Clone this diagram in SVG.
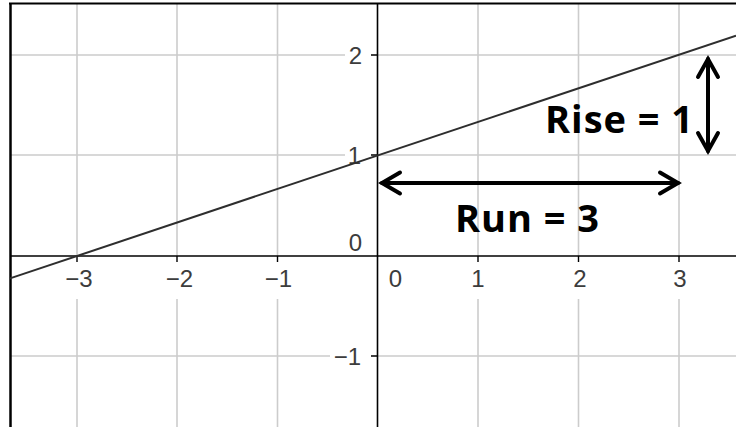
<svg xmlns="http://www.w3.org/2000/svg" width="736" height="427" viewBox="0 0 736 427">
<style>
.grid{stroke:#cccccc;stroke-width:1.6;fill:none}
.axis{stroke:#000;stroke-width:1.6;fill:none}
.tick{stroke:#000;stroke-width:1.4}
.lbl{font-family:"Liberation Sans",Arial,sans-serif;font-size:24px;fill:#3c3c3c}
.big{font-family:"Open Sans","Liberation Sans",sans-serif;font-weight:bold;font-size:38px;fill:#000}
.arr{stroke:#000;stroke-width:4;fill:none;stroke-linecap:round;stroke-linejoin:miter}
</style>
<rect x="0" y="0" width="736" height="427" fill="#fff"/>
<g id="grid">
  <!-- vertical gridlines -->
  <path class="grid" d="M77,3V256M77,299V427M177,3V256M177,299V427M277.5,3V256M277.5,299V427M478,3V256M478,299V427M578.5,3V256M578.5,299V427M679,3V256M679,299V427"/>
  <!-- horizontal gridlines -->
  <path class="grid" d="M10,55H345M378,55H736M10,155H345M378,155H736M10,356H330M378,356H736"/>
</g>
<g id="axes">
  <line class="axis" x1="10" y1="256" x2="736" y2="256"/>
  <line class="axis" x1="377.5" y1="3" x2="377.5" y2="427"/>
  <path class="tick" d="M77,256V262M177,256V262M277.5,256V262M478,256V262M578.5,256V262M679,256V262M371,55H378M371,155H378M371,356H378"/>
</g>
<g id="border">
  <line x1="10.5" y1="3" x2="10.5" y2="427" stroke="#000" stroke-width="2.5"/>
  <line x1="9" y1="3.5" x2="736" y2="3.5" stroke="#000" stroke-width="2.2"/>
</g>
<g id="labels">
  <text class="lbl" x="79" y="287" text-anchor="middle">−3</text>
  <text class="lbl" x="179.5" y="287" text-anchor="middle">−2</text>
  <text class="lbl" x="278.5" y="287" text-anchor="middle">−1</text>
  <text class="lbl" x="395.5" y="287" text-anchor="middle">0</text>
  <text class="lbl" x="478" y="287" text-anchor="middle">1</text>
  <text class="lbl" x="580" y="287" text-anchor="middle">2</text>
  <text class="lbl" x="680" y="287" text-anchor="middle">3</text>
  <text class="lbl" x="362" y="64" text-anchor="end">2</text>
  <text class="lbl" x="361" y="164" text-anchor="end">1</text>
  <text class="lbl" x="362" y="251" text-anchor="end">0</text>
  <text class="lbl" x="361" y="365" text-anchor="end">−1</text>
</g>
<g id="line">
  <line x1="10" y1="278.4" x2="736" y2="35.6" stroke="#2e2e2e" stroke-width="2"/>
</g>
<g id="connectors">
  <g id="run-arrow">
    <line class="arr" x1="382" y1="183" x2="678" y2="183"/>
    <polyline class="arr" points="400,172.5 382,183 400,193.5"/>
    <polyline class="arr" points="660,172.5 678,183 660,193.5"/>
  </g>
  <g id="rise-arrow">
    <line class="arr" x1="708" y1="59" x2="708" y2="151"/>
    <polyline class="arr" points="698,77 708,59 718,77"/>
    <polyline class="arr" points="698,133 708,151 718,133"/>
  </g>
</g>
<g id="rise-label">
  <text class="big" x="545" y="133" textLength="148" lengthAdjust="spacing">Rise = 1</text>
</g>
<g id="run-label">
  <text class="big" x="455" y="232" textLength="144" lengthAdjust="spacing">Run = 3</text>
</g>
</svg>
